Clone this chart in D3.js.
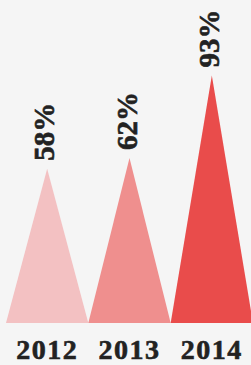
<!DOCTYPE html>
<html>
<head>
<meta charset="utf-8">
<script src="https://cdn.jsdelivr.net/npm/d3@7"></script>
<style>
  html, body { margin: 0; padding: 0; background: #f5f5f5; }
  svg { display: block; }
</style>
</head>
<body>
<div id="chart"></div>
<script>
// data
const years = ["2012", "2013", "2014"]
const values = [58, 62, 93]
const colors = ["#f3c1c2", "#ef8f8e", "#e94c4b"]

const width = 251
const height = 365
const baseY = 323

const svg = d3.select("#chart")
  .append("svg")
  .attr("width", width)
  .attr("height", height)

svg.append("rect")
  .attr("width", width)
  .attr("height", height)
  .attr("fill", "#f5f5f5")

// one band per year, triangles touch each other
const x = d3.scaleBand()
  .domain(years)
  .range([6, 253])
  .padding(0)

const y = d3.scaleLinear()
  .domain([0, 100])
  .range([baseY, baseY - 266])

const rows = years.map((yr, i) => ({ year: yr, value: values[i], color: colors[i] }))

// triangles
svg.append("g")
  .selectAll("path")
  .data(rows)
  .join("path")
  .attr("fill", d => d.color)
  .attr("d", d => {
    const x0 = x(d.year), x1 = x0 + x.bandwidth(), cx = x0 + x.bandwidth() / 2
    return `M${x0},${y(0)}L${cx},${y(d.value)}L${x1},${y(0)}Z`
  })

// rotated percent labels above the apex
svg.append("g")
  .selectAll("text")
  .data(rows)
  .join("text")
  .attr("transform", d => `translate(${x(d.year) + x.bandwidth() / 2 + 7},${y(d.value) - 8}) rotate(-90)`)
  .attr("font-family", "'Liberation Serif', serif")
  .attr("font-weight", "bold")
  .attr("font-size", 29)
  .attr("fill", "#222")
  .attr("stroke", "#222")
  .attr("stroke-width", 0.6)
  .text(d => d.value + "%")

// year axis at the bottom
const xAxis = g => g
  .attr("transform", `translate(0,${baseY})`)
  .call(d3.axisBottom(x).tickSize(0).tickPadding(0))
  .call(g => g.select(".domain").remove())
  .call(g => g.selectAll("text")
    .attr("y", 36)
    .attr("dy", 0)
    .attr("font-family", "'Liberation Serif', serif")
    .attr("font-weight", "bold")
    .attr("font-size", 28)
    .attr("letter-spacing", 1.5)
    .attr("fill", "#222")
    .attr("stroke", "#222")
    .attr("stroke-width", 0.6))

svg.append("g").call(xAxis)
</script>
</body>
</html>
